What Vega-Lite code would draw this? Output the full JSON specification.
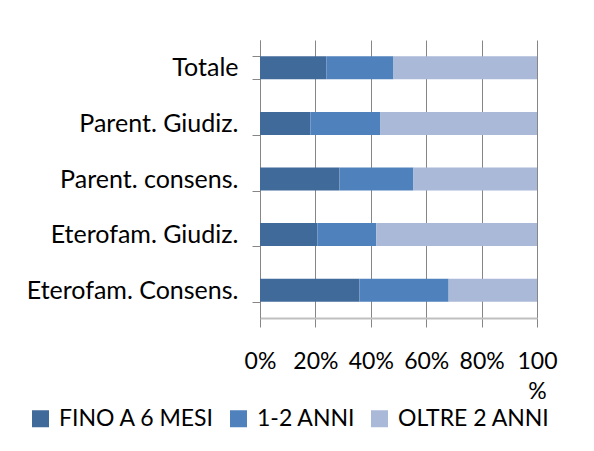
{
  "$schema": "https://vega.github.io/schema/vega-lite/v6.json",
  "width": 277,
  "height": 278,
  "autosize": {"type": "none"},
  "padding": {"left": 260, "top": 40, "right": 57, "bottom": 133},
  "background": "white",
  "config": {
    "view": {"stroke": null},
    "font": "Lato"
  },
  "data": {
    "values": [
      {"cat": "Totale", "series": "FINO A 6 MESI", "ord": 1, "value": 24.0},
      {"cat": "Totale", "series": "1-2 ANNI", "ord": 2, "value": 24.2},
      {"cat": "Totale", "series": "OLTRE 2 ANNI", "ord": 3, "value": 51.8},
      {"cat": "Parent. Giudiz.", "series": "FINO A 6 MESI", "ord": 1, "value": 18.2},
      {"cat": "Parent. Giudiz.", "series": "1-2 ANNI", "ord": 2, "value": 25.3},
      {"cat": "Parent. Giudiz.", "series": "OLTRE 2 ANNI", "ord": 3, "value": 56.5},
      {"cat": "Parent. consens.", "series": "FINO A 6 MESI", "ord": 1, "value": 28.7},
      {"cat": "Parent. consens.", "series": "1-2 ANNI", "ord": 2, "value": 26.7},
      {"cat": "Parent. consens.", "series": "OLTRE 2 ANNI", "ord": 3, "value": 44.6},
      {"cat": "Eterofam. Giudiz.", "series": "FINO A 6 MESI", "ord": 1, "value": 20.7},
      {"cat": "Eterofam. Giudiz.", "series": "1-2 ANNI", "ord": 2, "value": 21.3},
      {"cat": "Eterofam. Giudiz.", "series": "OLTRE 2 ANNI", "ord": 3, "value": 58.0},
      {"cat": "Eterofam. Consens.", "series": "FINO A 6 MESI", "ord": 1, "value": 35.9},
      {"cat": "Eterofam. Consens.", "series": "1-2 ANNI", "ord": 2, "value": 32.2},
      {"cat": "Eterofam. Consens.", "series": "OLTRE 2 ANNI", "ord": 3, "value": 31.9}
    ]
  },
  "mark": {"type": "bar"},
  "encoding": {
    "y": {
      "field": "cat",
      "type": "nominal",
      "sort": ["Totale", "Parent. Giudiz.", "Parent. consens.", "Eterofam. Giudiz.", "Eterofam. Consens."],
      "scale": {"paddingInner": 0.586, "paddingOuter": 0.293},
      "axis": {
        "title": null,
        "tickBand": "extent",
        "tickSize": 8,
        "tickColor": "#868686",
        "domainColor": "#868686",
        "labelPadding": 14,
        "labelFont": "Lato",
        "labelFontSize": 25,
        "labelColor": "black",
        "labelLimit": 0,
        "grid": false
      }
    },
    "x": {
      "field": "value",
      "type": "quantitative",
      "stack": "zero",
      "scale": {"domain": [0, 100], "nice": false},
      "axis": {
        "title": null,
        "values": [0, 20, 40, 60, 80, 100],
        "grid": true,
        "gridColor": "#868686",
        "gridOpacity": 1,
        "tickSize": 9,
        "tickColor": "#868686",
        "domainColor": "#BFBFBF",
        "domainWidth": 2,
        "labelPadding": 23,
        "labelFont": "Lato",
        "labelFontSize": 23,
        "labelColor": "black",
        "labelLineHeight": 30,
        "labelOverlap": false,
        "labelBound": false,
        "labelFlush": false,
        "labelAlign": "center",
        "labelExpr": "datum.value == 100 ? ['100', '%'] : datum.value + '%'"
      }
    },
    "color": {
      "field": "series",
      "type": "nominal",
      "sort": ["FINO A 6 MESI", "1-2 ANNI", "OLTRE 2 ANNI"],
      "scale": {
        "domain": ["FINO A 6 MESI", "1-2 ANNI", "OLTRE 2 ANNI"],
        "range": ["#406A9A", "#4F81BD", "#AAB9D7"]
      },
      "legend": {
        "title": null,
        "orient": "none",
        "direction": "horizontal",
        "padding": 0,
        "legendX": -231,
        "legendY": 367,
        "symbolType": "square",
        "symbolSize": 289,
        "symbolStrokeWidth": 0,
        "symbolOpacity": 1,
        "labelFont": "Lato",
        "labelFontSize": 23,
        "labelColor": "black",
        "labelOffset": 7,
        "columnPadding": 12,
        "labelLimit": 300
      }
    },
    "order": {"field": "ord", "type": "quantitative"}
  }
}
